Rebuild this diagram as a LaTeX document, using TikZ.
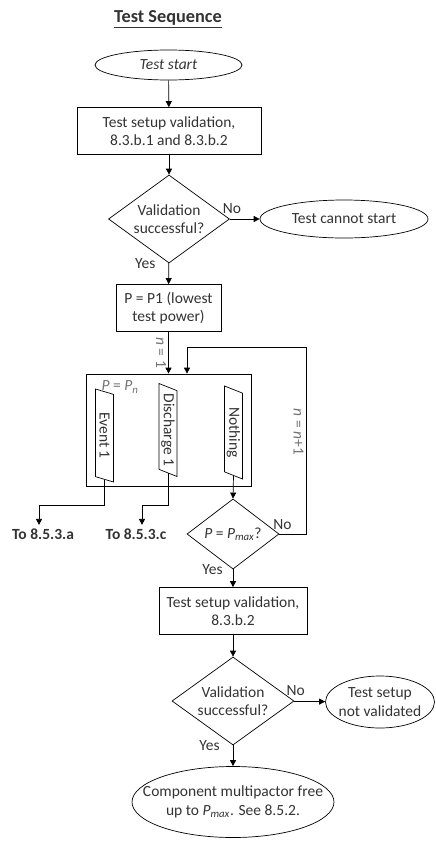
\documentclass[tikz,border=0pt]{standalone}
\usepackage{fontspec}
\setmainfont{Carlito}
\usetikzlibrary{shapes.geometric,arrows.meta}
\newcommand{\Pmax}{\textit{P}\textsubscript{\textit{max}}}

\begin{document}
\begin{tikzpicture}[x=1pt,y=-1pt,
  font=\fontsize{15.5}{18.5}\selectfont, text=black!80,
  >={Triangle[length=6pt,width=6pt]}, line width=0.7pt,
  box/.style={draw,rectangle,align=center,inner sep=0pt,minimum height=47pt},
  decide/.style={draw,diamond,align=center,inner sep=-3pt},
  term/.style={draw,ellipse,align=center,inner sep=0pt},
  event/.style={draw,trapezium,trapezium left angle=62,trapezium right angle=118,
    trapezium stretches body,rotate=-90,inner sep=0pt,minimum width=93pt,minimum height=18pt},
  goto/.style={font=\fontsize{15.5}{18.5}\selectfont\bfseries},
  lbl/.style={inner sep=1pt},
  mathlbl/.style={text=black!55,rotate=-90,anchor=north,inner sep=2pt}]
\useasboundingbox (0,0) rectangle (436,841);

\node[font=\fontsize{18.3}{22}\selectfont\bfseries] (title) at (168,19) {\underline{Test Sequence}};

\node[term,minimum width=147pt,minimum height=30pt] (start) at (168.5,65) {\textit{Test start}};
\node[box,minimum width=184pt] (val1) at (169,131) {Test setup validation,\\8.3.b.1 and 8.3.b.2};
\node[decide,minimum width=121pt,minimum height=75pt] (dec1) at (169,219) {Validation\\successful?};
\node[term,minimum width=168pt,minimum height=38pt] (nostart) at (344,219) {Test cannot start};
\node[box,minimum width=105pt] (pone) at (168.5,308) {P = P1 (lowest\\test power)};

% measurement box
\node[draw,rectangle,minimum width=165pt,minimum height=112pt] (meas) at (168.5,430) {};
\node[text=black!55] (pn) at (120,387) {\textit{P} = \textit{P}\textsubscript{\textit{n}}};
\node[event] (ev) at (104.5,435.5) {Event 1};
\node[event] (dis) at (168,430) {Discharge 1};
\node[event] (none) at (233.5,432.5) {Nothing};

\node[goto] (toa) at (43,534) {To 8.5.3.a};
\node[goto] (toc) at (136,534) {To 8.5.3.c};

\node[decide,inner sep=0pt,minimum width=92pt,minimum height=56pt] (dec2) at (233,534) {\textit{P} = \Pmax?};
\node[box,minimum width=148pt] (val2) at (233,611) {Test setup validation,\\8.3.b.2};
\node[decide,minimum width=122pt,minimum height=74pt] (dec3) at (233,701) {Validation\\successful?};
\node[term,inner xsep=-4pt,minimum width=109pt,minimum height=52pt] (notval) at (380,702) {Test setup\\not validated};
\node[term,inner xsep=-19pt,minimum width=202pt,minimum height=71pt] (free) at (233,802) {Component multipactor free\\up to \Pmax. See 8.5.2.};

\coordinate (split) at (0,505);
\coordinate (back) at (306,347);

\draw[->] (start) -- (val1);
\draw[->] (val1) -- (dec1);
\draw[->] (dec1) -- node[pos=0,above=4pt,xshift=2pt,lbl] {No} (nostart);
\draw[->] (dec1) -- node[pos=0,left=12pt,lbl] {Yes} (pone);
\draw[->] (pone) -- node[mathlbl] {\textit{n} = 1} (meas);
\draw[->] (ev.east) -- (ev.east |- split) -| ([xshift=-4pt]toa.north);
\draw[->] (dis.east) -- (dis.east |- split) -| ([xshift=6pt]toc.north);
\draw[->] (none.east) -- (dec2.north);
\draw[->] (dec2.east) -| (back) -| ([xshift=18.5pt]meas.north);
\node[mathlbl] (inc) at (306,432) {\textit{n} = \textit{n}+1};
\node[lbl,above=3pt,xshift=3pt] at (dec2.east) {No};
\draw[->] (dec2) -- node[pos=0,left=9pt,lbl] {Yes} (val2);
\draw[->] (val2) -- (dec3);
\draw[->] (dec3) -- node[pos=0,above=4pt,xshift=2pt,lbl] {No} (notval);
\draw[->] (dec3) -- node[pos=0,left=12pt,lbl] {Yes} (free);
\end{tikzpicture}
\end{document}
